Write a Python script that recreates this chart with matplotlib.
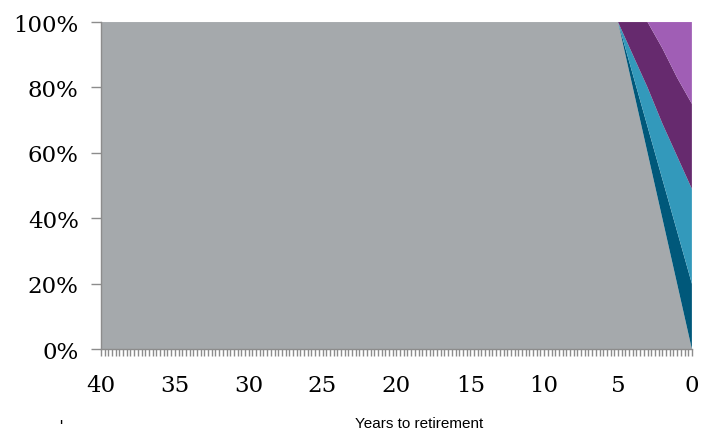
import matplotlib
matplotlib.use("Agg")
import matplotlib.pyplot as plt
from matplotlib.ticker import MultipleLocator, FuncFormatter

# glide path: share of each asset class by years to retirement
years = [40, 5, 4, 3, 2, 1, 0]
gray = [100, 100, 80, 60, 40, 20, 0]
dark_teal = [0, 0, 4, 8, 12, 16, 20]
light_blue = [0, 0, 6, 12, 17, 23, 29]
dark_purple = [0, 0, 10, 20, 23, 24, 26]
light_purple = [0, 0, 0, 0, 8, 17, 25]

colors = ["#A5A9AC", "#00587A", "#3399BB", "#662A6E", "#A05EB5"]
axis_gray = "#8C8C8C"

fig = plt.figure(figsize=(7.01, 4.35), dpi=100)
ax = fig.add_axes([0.144, 0.195, 0.843, 0.752])

ax.stackplot(years, gray, dark_teal, light_blue, dark_purple, light_purple,
             colors=colors, linewidth=0)

ax.set_xlim(40, 0)
ax.set_ylim(0, 100)

ax.xaxis.set_major_locator(MultipleLocator(5))
ax.xaxis.set_minor_locator(MultipleLocator(0.25))
ax.yaxis.set_major_locator(MultipleLocator(20))
ax.yaxis.set_major_formatter(FuncFormatter(lambda v, p: f"{v:.0f}%"))

for s in ["top", "right"]:
    ax.spines[s].set_visible(False)
for s in ["left", "bottom"]:
    ax.spines[s].set_color(axis_gray)
    ax.spines[s].set_linewidth(1.0)

ax.tick_params(axis="x", which="both", direction="out", length=5, width=1,
               color=axis_gray, pad=13)
ax.tick_params(axis="y", which="major", direction="out", length=7, width=1,
               color=axis_gray, pad=9)
for lab in ax.get_xticklabels() + ax.get_yticklabels():
    lab.set_fontfamily("DejaVu Serif")
    lab.set_fontsize(16.5)
    lab.set_fontweight("light")

fig.text(0.598, 0.025, "Years to retirement", ha="center", va="center",
         fontsize=11, family="Liberation Sans")
fig.text(0.087, 0.018, "'", ha="center", va="center", fontsize=12,
         family="Liberation Sans")

fig.savefig("out.png", dpi=100)
